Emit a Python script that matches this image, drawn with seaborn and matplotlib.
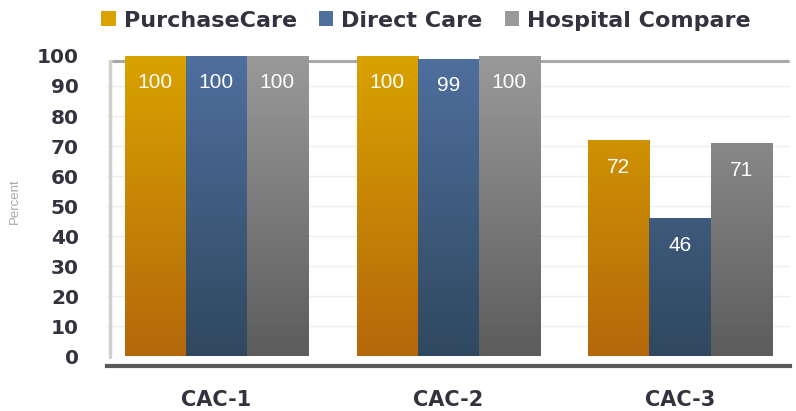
import numpy as np
import pandas as pd
import matplotlib
matplotlib.use("Agg")
import matplotlib.pyplot as plt
from matplotlib.colors import LinearSegmentedColormap
from matplotlib.patches import Patch
import seaborn as sns

# Data
measures = ["CAC-1", "CAC-2", "CAC-3"]
purchase_care = [100, 100, 72]
direct_care = [100, 99, 46]
hospital_compare = [100, 100, 71]
series_names = ["PurchaseCare", "Direct Care", "Hospital Compare"]
yticks = [0, 10, 20, 30, 40, 50, 60, 70, 80, 90, 100]

df = pd.DataFrame({
    "Measure": measures * 3,
    "Source": [s for s in series_names for _ in measures],
    "Percent": purchase_care + direct_care + hospital_compare,
})

# (top colour, bottom colour) for each series
grad = {
    "PurchaseCare": ("#D9A200", "#B4680B"),
    "Direct Care": ("#4F6F9E", "#30485F"),
    "Hospital Compare": ("#9A9A9A", "#5C5C5C"),
}
solid = {k: v[0] for k, v in grad.items()}
text_dark = "#333340"

sns.set_theme(style="white")
plt.rcParams["font.family"] = ["Liberation Sans", "DejaVu Sans"]

fig = plt.figure(figsize=(7.96, 4.11), dpi=100)
ax = fig.add_axes([0.134, 0.1095, 0.858, 0.7543])

sns.barplot(data=df, x="Measure", y="Percent", hue="Source",
            hue_order=series_names, order=measures, palette=solid,
            width=0.79, gap=0, saturation=1, errorbar=None,
            edgecolor="none", linewidth=0, legend=False, ax=ax)

ax.set_xlim(-0.473, 2.473)
ax.set_ylim(-3.3, 100)

# vertical gradient fill for every bar, clipped to the bar shape
n = len(measures)
for i, patch in enumerate(ax.patches):
    name = series_names[i // n]
    top, bottom = grad[name]
    cmap = LinearSegmentedColormap.from_list(name, [bottom, top])
    x0 = patch.get_x()
    w = patch.get_width()
    h = patch.get_height()
    img = ax.imshow(np.linspace(0, 1, 256).reshape(-1, 1), cmap=cmap,
                    aspect="auto", origin="lower",
                    extent=(x0, x0 + w, 0, 100), zorder=patch.get_zorder(),
                    interpolation="bilinear")
    img.set_clip_path(patch)
    ax.text(x0 + w / 2, h - 9, f"{h:g}", ha="center", va="center",
            color="white", fontsize=15, zorder=5,
            family=["Liberation Sans Narrow", "Liberation Sans", "DejaVu Sans"])

ax.set_xlim(-0.473, 2.473)
ax.set_ylim(-3.3, 100)

# faint horizontal guides and the plot-area frame
for yv in yticks[1:-1]:
    ax.axhline(yv, color="#eeeeee", lw=1, zorder=0)
ax.axhline(98.4, xmin=0.01, xmax=0.997, color="#a8a8a8", lw=2.2, zorder=0.5)
ax.axvline(-0.46, ymin=0.03, ymax=0.985, color="#cfcfcf", lw=2.5, zorder=0)

for side in ["top", "right", "left"]:
    ax.spines[side].set_visible(False)
ax.spines["bottom"].set_color("#5a5a5a")
ax.spines["bottom"].set_linewidth(3)

ax.set_yticks(yticks)
ax.set_yticklabels([str(t) for t in yticks], fontsize=14.5, fontweight="bold",
                   color=text_dark, family="DejaVu Sans")
ax.tick_params(axis="y", length=0, pad=20)
ax.set_xticks([0.5, 1.5], minor=True)
ax.tick_params(axis="x", which="major", length=0, pad=17)
ax.tick_params(axis="x", which="minor", length=4, width=2.5,
               color="white", direction="inout")
for lbl in ax.get_xticklabels():
    lbl.set_fontsize(15)
    lbl.set_fontweight("bold")
    lbl.set_color(text_dark)
    lbl.set_family("DejaVu Sans")
ax.set_xlabel("")
ax.set_ylabel("")
fig.text(0.019, 0.51, "Percent", rotation=90, ha="center", va="center",
         fontsize=9.5, color="#a8a8a8")

handles = [Patch(facecolor=grad[s][0], edgecolor="none") for s in series_names]
fig.legend(handles, series_names, loc="center", bbox_to_anchor=(0.535, 0.95),
           ncol=3, frameon=False, handlelength=0.65, handleheight=0.65,
           handletextpad=0.35, columnspacing=1.0,
           prop={"size": 16, "weight": "bold", "family": "DejaVu Sans"},
           labelcolor=text_dark)

fig.savefig("out.png", dpi=100)
